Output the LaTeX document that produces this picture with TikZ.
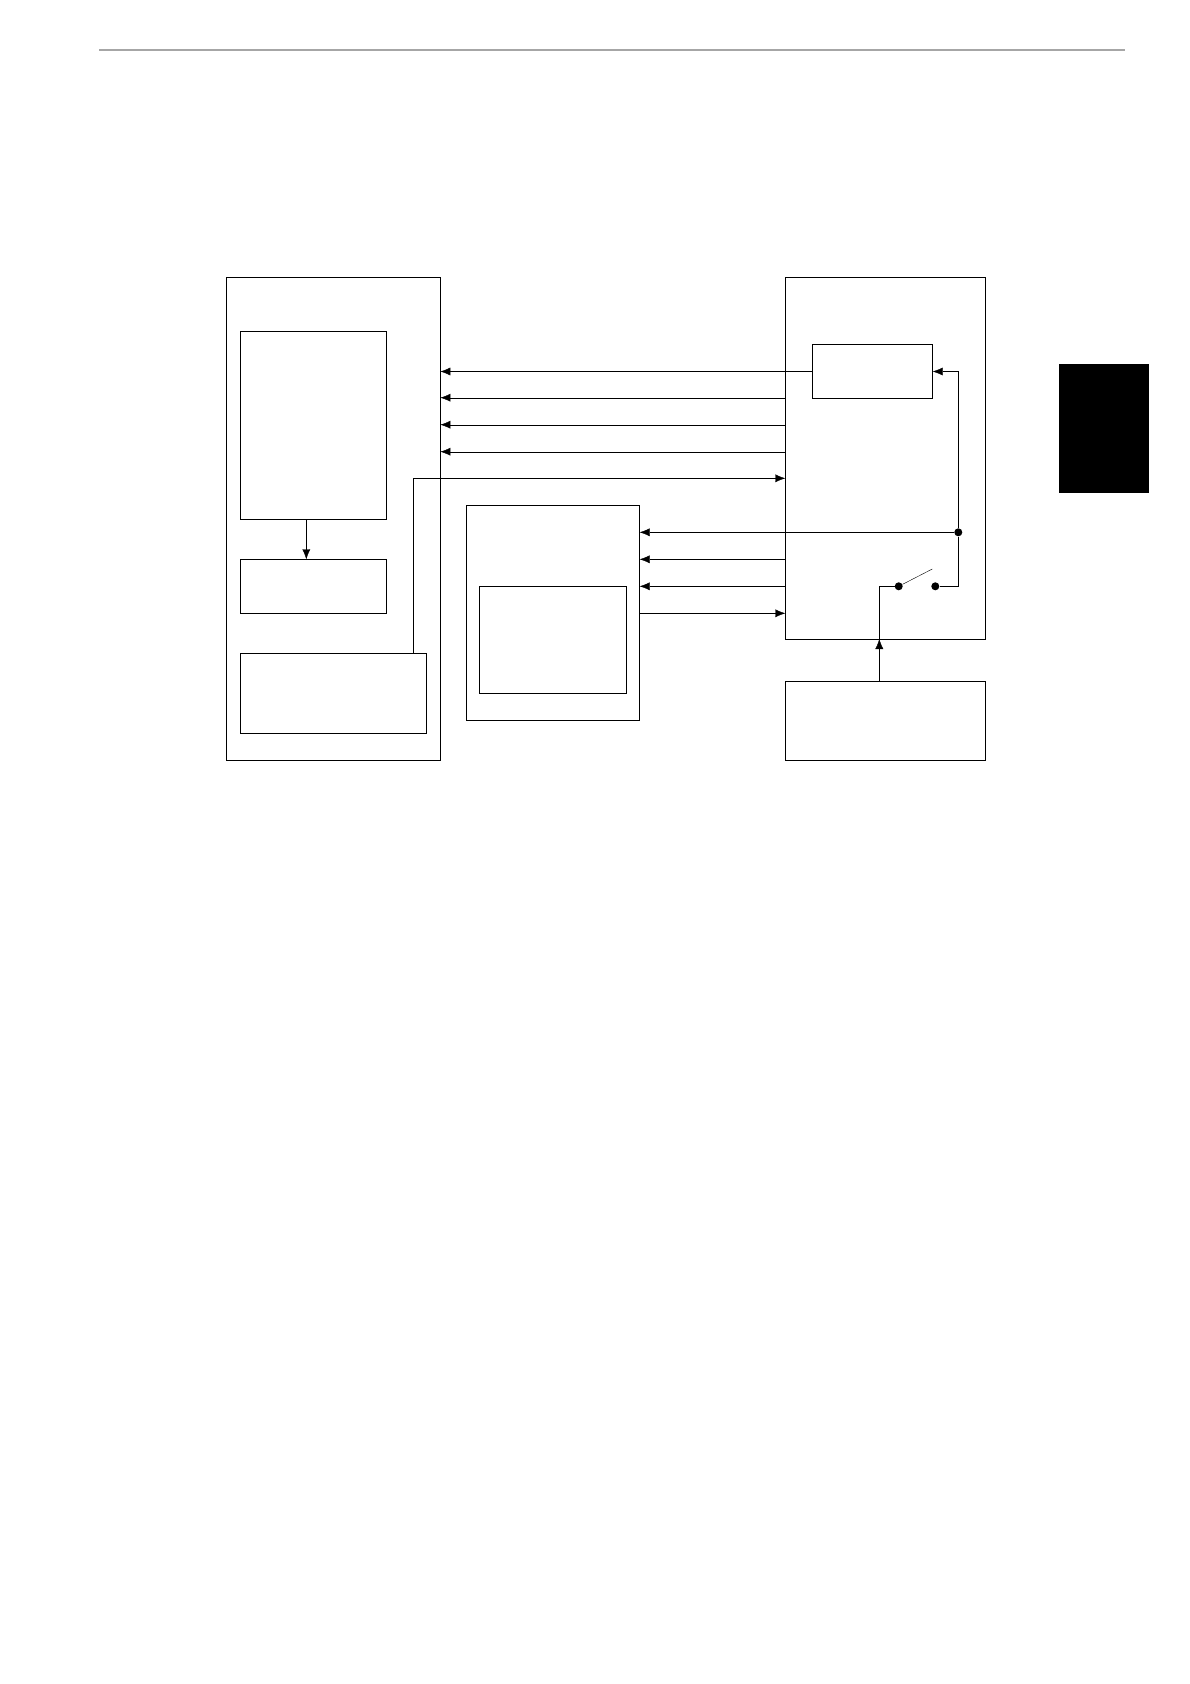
\documentclass[tikz,border=0pt]{standalone}
\usepackage{tikz}
\usetikzlibrary{arrows.meta,calc,positioning}
\tikzset{
    x=1pt,y=-1pt,line width=1.2pt,
    blk/.style ={draw, anchor=north west, inner sep=0pt},
    sig/.style ={-{Latex[length=10pt,width=8pt]}},
    dot/.style ={circle, fill, inner sep=0pt, minimum size=8pt}
}
\begin{document}
\begin{tikzpicture}
\useasboundingbox (0,0) rectangle (1190,1684);

% Page rule and tab
\draw[black!35, line width=2pt] (99,50) -- (1125,50);
\fill (1059,364) rectangle (1149,492.7);

% Nodes
\node[blk, minimum width=213.7, minimum height=482.7] (host) at (226.3,277.3) {};
\node[blk, minimum width=146, minimum height=188] (cpu) at (240.3,331) {};
\node[blk, minimum width=146, minimum height=54] (mem) at (240.3,559.3) {};
\node[blk, minimum width=186, minimum height=80] (io) at (240.3,653.3) {};
\node[blk, minimum width=200, minimum height=361.7] (ctrl) at (785.3,277.3) {};
\node[blk, minimum width=120, minimum height=54] (reg) at (812.3,344.3) {};
\node[blk, minimum width=173, minimum height=215] (dev) at (466.3,505.3) {};
\node[blk, minimum width=147, minimum height=107] (sub) at (479.3,586.3) {};
\node[blk, minimum width=200, minimum height=79.5] (pwr) at (785.3,680.5) {};
\draw[line width=1.8pt] (host.north east) -- (host.south east);

% Switch and junction
\node[dot] (sw1) at (898.7,586.3) {};
\node[dot] (sw2) at (935.3,586.3) {};
\node[dot] (jn) at (958.3,532.3) {};
\coordinate (feed) at (879.3,639);
\coordinate (io out) at (413.3,478.3);

% Paths
\draw[sig] (cpu.south -| 306.3,0) -- (mem.north -| 306.3,0);
\draw[sig] (reg.west) -- (reg.west -| host.east);
\foreach \y in {397.7,424.7,451.7}
  \draw[sig] (ctrl.west |- 0,\y) -- (host.east |- 0,\y);
\draw[sig] (io.north -| io out) -- (io out) -- (io out -| ctrl.west);
\draw[sig] (jn) -- (jn -| dev.east);
\foreach \y in {559.3,586.3}
  \draw[sig] (ctrl.west |- 0,\y) -- (dev.east |- 0,\y);
\draw[sig] (dev.east |- 0,613.3) -- (ctrl.west |- 0,613.3);
\draw[sig] (sw2) -- (sw2 -| jn) -- (jn) |- (reg.east);
\draw (sw1) -- (932.3,569);
\draw[sig] (pwr.north -| feed) -- (feed);
\draw (feed) |- (sw1);

\end{tikzpicture}
\end{document}
